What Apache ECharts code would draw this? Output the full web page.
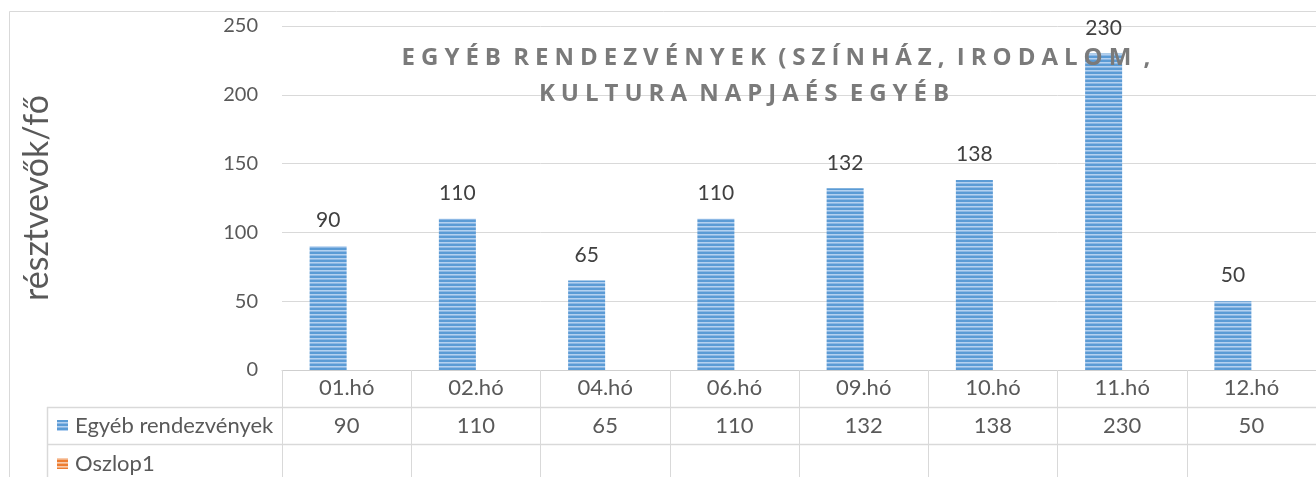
<!DOCTYPE html>
<html>
<head>
<meta charset="utf-8">
<script src="https://cdn.jsdelivr.net/npm/echarts@6/dist/echarts.min.js"></script>
<style>
  html, body { margin: 0; padding: 0; background: #ffffff; }
  #chart { width: 1316px; height: 477px; }
</style>
</head>
<body>
<div id="chart"></div>
<script>
// Monthly attendance of "other events" (theatre, literature, culture day, ...)
const categories = ['01.hó', '02.hó', '04.hó', '06.hó', '09.hó', '10.hó', '11.hó', '12.hó'];
const seriesName = 'Egyéb rendezvények';
const values = [90, 110, 65, 110, 132, 138, 230, 50];
const emptySeriesName = 'Oszlop1';
const emptyValues = [null, null, null, null, null, null, null, null];
const yTicks = { min: 0, max: 250, interval: 50 };
const yAxisTitle = 'résztvevők/fő';
const titleLines = ['EGYÉB RENDEZVÉNYEK (SZÍNHÁZ, IRODALOM ,', 'KULTURA NAPJAÉS EGYÉB'];

// Layout
const FONT = 'Lato, "Open Sans", sans-serif';
const TEXT = '#595959';
const LINE = '#d9d9d9';
const gridBox = { left: 282, top: 26, width: 1044, height: 344 };
const tableRows = { y1: 407, y2: 444, legendLeft: 47 };

// Striped fill for the bars
function stripePattern(dark, light, mid) {
  const c = document.createElement('canvas');
  c.width = 4; c.height = 4;
  const ctx = c.getContext('2d');
  ctx.fillStyle = dark; ctx.fillRect(0, 0, 4, 4);
  ctx.fillStyle = light; ctx.fillRect(0, 2, 4, 1);
  ctx.fillStyle = mid; ctx.fillRect(0, 3, 4, 1);
  return { image: c, repeat: 'repeat' };
}
const blueFill = stripePattern('#5b9bd5', '#b4d1f0', '#8db8e4');
const orangeFill = stripePattern('#ed7d31', '#f8cbad', '#f4b183');

// Letter-spaced title text
function spaced(str) {
  const SEP = '\u2005';
  return str.split(' ').map(w => Array.from(w).join(SEP)).join(SEP + ' ');
}

const chart = echarts.init(document.getElementById('chart'), null, { renderer: 'canvas' });

chart.setOption({
  animation: false,
  backgroundColor: '#ffffff',
  grid: { left: gridBox.left, top: gridBox.top, width: gridBox.width, height: gridBox.height, containLabel: false },
  xAxis: {
    type: 'category',
    data: categories,
    axisLine: { show: true, lineStyle: { color: '#cfcfcf', width: 1 } },
    axisTick: { show: true, alignWithLabel: false, interval: 0, length: 110, lineStyle: { color: LINE } },
    axisLabel: { color: TEXT, fontSize: 22, fontFamily: FONT, margin: 7, interval: 0 },
    splitLine: { show: false }
  },
  yAxis: {
    type: 'value',
    min: yTicks.min, max: yTicks.max, interval: yTicks.interval,
    name: yAxisTitle,
    nameLocation: 'middle',
    nameRotate: 90,
    nameGap: 228,
    nameTextStyle: { color: TEXT, fontSize: 34, fontFamily: FONT },
    axisLine: { show: false },
    axisTick: { show: false },
    axisLabel: { color: TEXT, fontSize: 20, fontFamily: FONT, margin: 24 },
    splitLine: { show: true, lineStyle: { color: LINE, width: 1 } }
  },
  series: [
    {
      name: seriesName,
      type: 'bar',
      data: values,
      barWidth: 37,
      barGap: '0%',
      itemStyle: { color: blueFill },
      label: {
        show: true, position: 'top', distance: 15,
        color: '#404040', fontSize: 21, fontFamily: FONT
      }
    },
    {
      name: emptySeriesName,
      type: 'bar',
      data: emptyValues,
      barWidth: 37,
      barGap: '0%',
      itemStyle: { color: '#ed7d31' }
    }
  ]
});

// Title and data table drawn with graphic elements
const graphics = [];
// outer chart border
graphics.push({ type: 'rect', silent: true, z: 0,
  shape: { x: 9.5, y: 11.5, width: 1400, height: 600 },
  style: { fill: null, stroke: LINE, lineWidth: 1 } });

// title lines
const titleCenters = [[776, 58], [744, 94]];
titleLines.forEach((t, i) => {
  graphics.push({ type: 'text', silent: true, z: 10,
    x: titleCenters[i][0], y: titleCenters[i][1],
    style: { text: spaced(t), fill: '#7a7a7a', font: 'bold 24px "Open Sans", sans-serif',
      align: 'center', verticalAlign: 'middle' } });
});

// table horizontal rules
[tableRows.y1, tableRows.y2].forEach(y => {
  graphics.push({ type: 'line', silent: true, z: 1,
    shape: { x1: tableRows.legendLeft, y1: y + 0.5, x2: 1316, y2: y + 0.5 },
    style: { stroke: LINE, lineWidth: 1.5 } });
});
// legend column left edge
graphics.push({ type: 'line', silent: true, z: 1,
  shape: { x1: tableRows.legendLeft + 0.5, y1: tableRows.y1, x2: tableRows.legendLeft + 0.5, y2: 477 },
  style: { stroke: LINE, lineWidth: 1.5 } });

// legend keys and names
const rowCenters = [425.5, 463.5];
[[seriesName, blueFill], [emptySeriesName, orangeFill]].forEach((row, i) => {
  graphics.push({ type: 'rect', silent: true, z: 5,
    shape: { x: 57, y: rowCenters[i] - 5.5, width: 11, height: 11 },
    style: { fill: row[1] } });
  graphics.push({ type: 'text', silent: true, z: 5,
    x: 75, y: rowCenters[i],
    style: { text: row[0], fill: TEXT, font: '22px ' + FONT, align: 'left', verticalAlign: 'middle' } });
});

// values row
categories.forEach((c, i) => {
  const px = chart.convertToPixel({ xAxisIndex: 0 }, c);
  graphics.push({ type: 'text', silent: true, z: 5,
    x: px, y: rowCenters[0],
    style: { text: String(values[i]), fill: TEXT, font: '22px ' + FONT, align: 'center', verticalAlign: 'middle' } });
});

chart.setOption({ graphic: graphics });
</script>
</body>
</html>
